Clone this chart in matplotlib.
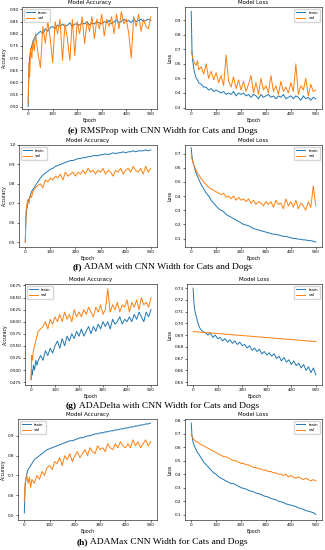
import matplotlib
matplotlib.use('Agg')
import matplotlib.pyplot as plt

EPOCHS = [0, 3, 6, 10, 15, 20, 25, 30] + list(range(40, 501, 10))

# (e) RMSProp
e_acc_train = [0.50, 0.64, 0.70, 0.73, 0.75, 0.77, 0.78, 0.79,
               0.80, 0.81, 0.80, 0.82, 0.81, 0.825, 0.83,
               0.82, 0.835, 0.83, 0.84, 0.83, 0.835, 0.845, 0.83, 0.84, 0.84,
               0.835, 0.845, 0.84, 0.85, 0.835, 0.845, 0.84, 0.85, 0.845, 0.84,
               0.85, 0.845, 0.855, 0.84, 0.85, 0.855, 0.845, 0.85, 0.86, 0.85,
               0.855, 0.845, 0.86, 0.85, 0.855, 0.86, 0.85, 0.855, 0.86, 0.855]
e_acc_val = [0.51, 0.68, 0.62, 0.74, 0.70, 0.77, 0.73, 0.80,
             0.72, 0.66, 0.83, 0.76, 0.85, 0.78, 0.68,
             0.85, 0.80, 0.86, 0.69, 0.84, 0.78, 0.69, 0.86, 0.71, 0.85,
             0.80, 0.87, 0.76, 0.85, 0.81, 0.87, 0.78, 0.86, 0.82, 0.88,
             0.79, 0.86, 0.83, 0.87, 0.80, 0.88, 0.82, 0.89, 0.84, 0.86,
             0.80, 0.70, 0.87, 0.83, 0.88, 0.81, 0.86, 0.83, 0.82, 0.87]
e_loss_train = [0.96, 0.70, 0.62, 0.57, 0.53, 0.50, 0.49, 0.47,
                0.46, 0.44, 0.44, 0.42, 0.43, 0.41, 0.42,
                0.41, 0.40, 0.41, 0.39, 0.40, 0.39, 0.41, 0.38, 0.40, 0.39,
                0.40, 0.38, 0.39, 0.37, 0.39, 0.38, 0.36, 0.39, 0.37, 0.38,
                0.39, 0.37, 0.38, 0.36, 0.38, 0.37, 0.39, 0.36, 0.37, 0.38,
                0.36, 0.38, 0.37, 0.35, 0.38, 0.36, 0.37, 0.35, 0.37, 0.36]
e_loss_val = [0.69, 0.66, 0.64, 0.62, 0.60, 0.59, 0.62, 0.56,
              0.58, 0.53, 0.60, 0.50, 0.55, 0.49, 0.54,
              0.47, 0.52, 0.45, 0.66, 0.48, 0.44, 0.51, 0.43, 0.49, 0.42,
              0.48, 0.41, 0.46, 0.52, 0.40, 0.47, 0.39, 0.50, 0.42, 0.45,
              0.40, 0.52, 0.41, 0.45, 0.39, 0.48, 0.41, 0.44, 0.40, 0.47,
              0.41, 0.60, 0.39, 0.45, 0.42, 0.50, 0.38, 0.46, 0.41, 0.42]

# (f) ADAM
f_acc_train = [0.50, 0.63, 0.67, 0.70, 0.72, 0.74, 0.76, 0.77,
               0.79, 0.81, 0.83, 0.845, 0.855, 0.865, 0.875,
               0.88, 0.89, 0.895, 0.90, 0.905, 0.91, 0.915, 0.92, 0.92, 0.925,
               0.93, 0.93, 0.935, 0.935, 0.94, 0.94, 0.945, 0.945, 0.945, 0.95,
               0.95, 0.955, 0.95, 0.955, 0.96, 0.955, 0.96, 0.96, 0.965, 0.96,
               0.965, 0.965, 0.97, 0.965, 0.97, 0.97, 0.97, 0.975, 0.97, 0.975]
f_acc_val = [0.50, 0.66, 0.69, 0.72, 0.70, 0.74, 0.73, 0.76,
             0.78, 0.79, 0.80, 0.78, 0.82, 0.81, 0.83,
             0.82, 0.84, 0.83, 0.85, 0.82, 0.86, 0.84, 0.85, 0.86, 0.84,
             0.86, 0.85, 0.87, 0.85, 0.88, 0.86, 0.87, 0.85, 0.87, 0.86,
             0.88, 0.85, 0.87, 0.86, 0.84, 0.87, 0.86, 0.88, 0.85, 0.87,
             0.88, 0.86, 0.89, 0.87, 0.86, 0.88, 0.85, 0.89, 0.86, 0.88]
f_loss_train = [0.74, 0.68, 0.65, 0.62, 0.59, 0.56, 0.54, 0.52,
                0.48, 0.45, 0.42, 0.40, 0.37, 0.35, 0.33,
                0.31, 0.30, 0.29, 0.27, 0.26, 0.25, 0.24, 0.23, 0.22, 0.21,
                0.20, 0.195, 0.19, 0.18, 0.17, 0.165, 0.16, 0.155, 0.15, 0.145,
                0.14, 0.135, 0.13, 0.13, 0.125, 0.12, 0.115, 0.115, 0.11, 0.105,
                0.10, 0.10, 0.095, 0.095, 0.09, 0.09, 0.085, 0.085, 0.08, 0.075]
f_loss_val = [0.70, 0.66, 0.64, 0.62, 0.60, 0.58, 0.56, 0.55,
              0.52, 0.50, 0.48, 0.46, 0.45, 0.44, 0.43,
              0.42, 0.41, 0.42, 0.39, 0.40, 0.38, 0.40, 0.37, 0.39, 0.37,
              0.38, 0.36, 0.38, 0.35, 0.37, 0.34, 0.36, 0.35, 0.33, 0.36,
              0.34, 0.36, 0.32, 0.37, 0.34, 0.35, 0.31, 0.38, 0.33, 0.36,
              0.32, 0.37, 0.31, 0.35, 0.33, 0.30, 0.36, 0.32, 0.47, 0.33]

# (g) ADADelta
g_acc_train = [0.48, 0.50, 0.49, 0.51, 0.50, 0.52, 0.51, 0.52,
               0.53, 0.52, 0.54, 0.53, 0.545, 0.535, 0.55,
               0.56, 0.545, 0.565, 0.55, 0.57, 0.56, 0.575, 0.565, 0.58, 0.57,
               0.585, 0.57, 0.58, 0.59, 0.575, 0.59, 0.58, 0.595, 0.585, 0.60,
               0.59, 0.60, 0.585, 0.605, 0.595, 0.60, 0.61, 0.595, 0.605, 0.60,
               0.61, 0.60, 0.615, 0.605, 0.62, 0.61, 0.60, 0.62, 0.61, 0.625]
g_acc_val = [0.48, 0.53, 0.52, 0.54, 0.55, 0.56, 0.57, 0.58,
             0.585, 0.59, 0.60, 0.585, 0.605, 0.595, 0.61,
             0.60, 0.615, 0.60, 0.62, 0.605, 0.615, 0.60, 0.625, 0.61, 0.62,
             0.61, 0.625, 0.615, 0.63, 0.62, 0.61, 0.63, 0.62, 0.635, 0.615,
             0.625, 0.668, 0.62, 0.635, 0.625, 0.64, 0.62, 0.635, 0.63, 0.645,
             0.62, 0.64, 0.63, 0.645, 0.625, 0.65, 0.635, 0.64, 0.63, 0.65]
g_loss_train = [0.730, 0.718, 0.712, 0.708, 0.704, 0.700, 0.697, 0.695,
                0.693, 0.692, 0.690, 0.692, 0.688, 0.690, 0.687,
                0.688, 0.685, 0.687, 0.684, 0.686, 0.683, 0.685, 0.682, 0.684, 0.681,
                0.682, 0.679, 0.681, 0.677, 0.679, 0.676, 0.678, 0.674, 0.676, 0.673,
                0.675, 0.672, 0.674, 0.670, 0.672, 0.668, 0.671, 0.667, 0.669, 0.665,
                0.668, 0.664, 0.666, 0.662, 0.665, 0.660, 0.663, 0.658, 0.662, 0.656]
g_loss_val = [0.6930, 0.6929, 0.6929, 0.6928, 0.6927, 0.6927, 0.6926, 0.6925,
              0.6923, 0.6921, 0.6920, 0.6918, 0.6916, 0.6915, 0.6913,
              0.6911, 0.6910, 0.6908, 0.6906, 0.6904, 0.6903, 0.6901, 0.6899, 0.6898, 0.6896,
              0.6894, 0.6893, 0.6891, 0.6889, 0.6887, 0.6886, 0.6884, 0.6882, 0.6881, 0.6879,
              0.6877, 0.6876, 0.6874, 0.6872, 0.6870, 0.6869, 0.6867, 0.6865, 0.6864, 0.6862,
              0.6860, 0.6859, 0.6857, 0.6855, 0.6853, 0.6852, 0.6850, 0.6848, 0.6847, 0.6845]

# (h) ADAMax
h_acc_train = [0.51, 0.64, 0.68, 0.71, 0.73, 0.74, 0.75, 0.76,
               0.78, 0.79, 0.80, 0.81, 0.82, 0.83, 0.835,
               0.84, 0.845, 0.85, 0.855, 0.86, 0.865, 0.87, 0.875, 0.875, 0.88,
               0.885, 0.89, 0.89, 0.895, 0.90, 0.90, 0.905, 0.91, 0.91, 0.915,
               0.915, 0.92, 0.92, 0.925, 0.925, 0.93, 0.93, 0.935, 0.935, 0.94,
               0.94, 0.945, 0.945, 0.95, 0.95, 0.955, 0.955, 0.96, 0.96, 0.965]
h_acc_val = [0.57, 0.66, 0.68, 0.70, 0.66, 0.69, 0.64, 0.68,
             0.66, 0.70, 0.68, 0.72, 0.70, 0.74, 0.75,
             0.73, 0.77, 0.76, 0.79, 0.75, 0.80, 0.78, 0.81, 0.77, 0.80,
             0.82, 0.79, 0.81, 0.83, 0.80, 0.84, 0.82, 0.81, 0.85, 0.83,
             0.84, 0.82, 0.86, 0.84, 0.83, 0.86, 0.84, 0.87, 0.85, 0.84,
             0.86, 0.84, 0.88, 0.85, 0.87, 0.84, 0.86, 0.88, 0.85, 0.87]
h_loss_train = [0.78, 0.69, 0.65, 0.62, 0.60, 0.58, 0.56, 0.55,
                0.52, 0.49, 0.47, 0.45, 0.43, 0.41, 0.40,
                0.38, 0.37, 0.36, 0.35, 0.34, 0.33, 0.33, 0.32, 0.31, 0.30,
                0.295, 0.29, 0.28, 0.275, 0.27, 0.26, 0.255, 0.25, 0.24, 0.235,
                0.23, 0.22, 0.215, 0.21, 0.20, 0.195, 0.19, 0.18, 0.175, 0.17,
                0.165, 0.16, 0.15, 0.145, 0.14, 0.13, 0.125, 0.12, 0.115, 0.10]
h_loss_val = [0.70, 0.68, 0.67, 0.66, 0.65, 0.64, 0.64, 0.63,
              0.62, 0.61, 0.60, 0.59, 0.58, 0.57, 0.56,
              0.55, 0.54, 0.53, 0.53, 0.52, 0.51, 0.50, 0.50, 0.49, 0.48,
              0.48, 0.47, 0.47, 0.46, 0.45, 0.45, 0.44, 0.44, 0.43, 0.43,
              0.42, 0.42, 0.41, 0.41, 0.40, 0.40, 0.39, 0.40, 0.38, 0.39,
              0.38, 0.37, 0.38, 0.37, 0.36, 0.37, 0.36, 0.35, 0.36, 0.35]

captions = [("(e)", "RMSProp with CNN Width for Cats and Dogs"),
            ("(f)", "ADAM with CNN Width for Cats and Dogs"),
            ("(g)", "ADADelta with CNN Width for Cats and Dogs"),
            ("(h)", "ADAMax CNN Width for Cats and Dogs")]

rows = [(e_acc_train, e_acc_val, e_loss_train, e_loss_val),
        (f_acc_train, f_acc_val, f_loss_train, f_loss_val),
        (g_acc_train, g_acc_val, g_loss_train, g_loss_val),
        (h_acc_train, h_acc_val, h_loss_train, h_loss_val)]

# layout in pixels: (acc left, loss left, top, bottom, caption y)
W, H = 325, 550
layout = [(22, 185, 7, 109, 131),
          (19, 185, 145, 247, 267),
          (25, 187, 284, 385, 406),
          (18, 185, 419, 520, 542)]
ylims_acc = [(0.49, 0.91), (0.475, 1.0), (0.469, 0.678), (0.475, 0.985)]
yticks_acc = [[0.50, 0.55, 0.60, 0.65, 0.70, 0.75, 0.80, 0.85, 0.90],
              [0.5, 0.6, 0.7, 0.8, 0.9, 1.0],
              [0.475, 0.500, 0.525, 0.550, 0.575, 0.600, 0.625, 0.650, 0.675],
              [0.5, 0.6, 0.7, 0.8, 0.9]]
ylims_loss = [(0.29, 0.99), (0.04, 0.76), (0.6475, 0.7335), (0.06, 0.81)]
yticks_loss = [[0.3, 0.4, 0.5, 0.6, 0.7, 0.8, 0.9],
               [0.1, 0.2, 0.3, 0.4, 0.5, 0.6, 0.7],
               [0.65, 0.66, 0.67, 0.68, 0.69, 0.70, 0.71, 0.72, 0.73],
               [0.1, 0.2, 0.3, 0.4, 0.5, 0.6, 0.7, 0.8]]

fig = plt.figure(figsize=(3.25, 5.5), dpi=100)
fs = 3.0
cap_fs = 6.8
serif = 'Liberation Serif'


def style(ax, title, ylabel, ylim, yticks, loc):
    ax.set_title(title, fontsize=4, pad=2)
    ax.set_xlabel("Epoch", fontsize=3.3, labelpad=1)
    ax.set_ylabel(ylabel, fontsize=3.3, labelpad=1.5)
    ax.set_ylim(*ylim)
    ax.set_yticks(yticks)
    ax.set_xticks([0, 100, 200, 300, 400, 500])
    ax.tick_params(labelsize=fs, length=1.5, width=0.4, pad=1)
    for s in ax.spines.values():
        s.set_linewidth(0.4)
    ax.legend(fontsize=3, loc=loc, handlelength=2.2, borderpad=0.4,
              labelspacing=0.3, framealpha=0.8, edgecolor='#cccccc')


r = fig.canvas.get_renderer()

for i, (acc_t, acc_v, loss_t, loss_v) in enumerate(rows):
    l1, l2, top, bot, cy = layout[i]
    b = 1 - bot / H
    h = (bot - top) / H
    ax1 = fig.add_axes([l1 / W, b, (157 - l1) / W, h])
    ax1.plot(EPOCHS, acc_t, color='#1f77b4', lw=0.7, label='train')
    ax1.plot(EPOCHS, acc_v, color='#ff7f0e', lw=0.7, label='val')
    style(ax1, "Model Accuracy", "Accuracy", ylims_acc[i], yticks_acc[i], 'upper left')

    ax2 = fig.add_axes([l2 / W, b, (322 - l2) / W, h])
    ax2.plot(EPOCHS, loss_t, color='#1f77b4', lw=0.7, label='train')
    ax2.plot(EPOCHS, loss_v, color='#ff7f0e', lw=0.7, label='val')
    style(ax2, "Model Loss", "Loss", ylims_loss[i], yticks_loss[i], 'upper right')

    # caption: bold label followed by normal text, centred as a whole
    lab, rest = captions[i]
    y = 1 - cy / H
    lt = fig.text(0, y, lab, fontsize=cap_fs, ha='left', va='center',
                  family=serif, weight='bold')
    rt = fig.text(0, y, " " + rest, fontsize=cap_fs, ha='left', va='center',
                  family=serif)
    w1 = lt.get_window_extent(r).width / fig.bbox.width
    w2 = rt.get_window_extent(r).width / fig.bbox.width
    x0 = 0.5 - (w1 + w2) / 2
    lt.set_x(x0)
    rt.set_x(x0 + w1)

fig.savefig("out.png", dpi=100)
